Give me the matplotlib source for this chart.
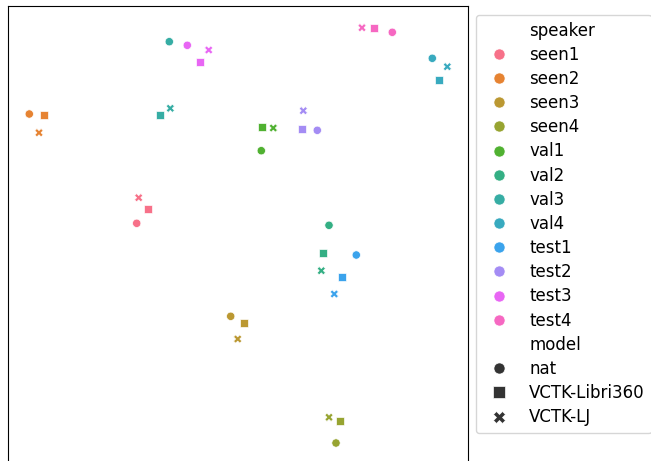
import pandas as pd
import numpy as np
import matplotlib
matplotlib.use("Agg")
import matplotlib.pyplot as plt
import seaborn as sns

speakers = ["seen1", "seen2", "seen3", "seen4", "val1", "val2", "val3", "val4",
            "test1", "test2", "test3", "test4"]
models = ["nat", "VCTK-Libri360", "VCTK-LJ"]

# 2D embedding coordinates, one list per model, in the order of `speakers`
x_nat = [136.7, 29.3, 230.7, 336.0, 261.3, 329.0, 169.3, 432.3, 356.3, 317.3, 187.3, 392.3]
y_nat = [237.7, 347.0, 144.7, 18.0, 310.3, 235.7, 419.3, 402.7, 206.0, 330.7, 415.7, 428.7]
x_libri = [147.7, 43.7, 244.3, 340.0, 261.7, 323.0, 160.3, 439.3, 342.0, 301.7, 199.7, 374.0]
y_libri = [251.7, 345.7, 137.7, 40.3, 334.3, 208.3, 345.7, 381.3, 184.0, 332.3, 399.0, 432.7]
x_lj = [138.7, 39.0, 237.7, 329.0, 273.3, 321.3, 170.3, 447.3, 334.3, 303.3, 208.7, 362.0]
y_lj = [263.3, 328.3, 122.0, 43.7, 333.0, 190.3, 352.7, 394.3, 167.0, 350.3, 411.0, 433.3]

df = pd.DataFrame({
    "x": x_nat + x_libri + x_lj,
    "y": y_nat + y_libri + y_lj,
    "speaker": speakers * 3,
    "model": np.repeat(models, len(speakers)),
})

fig = plt.figure(figsize=(6.51, 4.61), dpi=100)
ax = fig.add_axes([8 / 651, -12 / 461, 460 / 651, 467 / 461])

sns.scatterplot(data=df, x="x", y="y", hue="speaker", style="model",
                hue_order=speakers, style_order=models,
                markers=["o", "s", "X"], ax=ax)

ax.set_xlim(8, 468)
ax.set_ylim(-12, 455)
ax.set_xticks([])
ax.set_yticks([])
ax.set_xlabel("")
ax.set_ylabel("")

leg = ax.legend(loc="upper left", bbox_to_anchor=(476 / 651, 1 - 15 / 461),
                bbox_transform=fig.transFigure, fontsize=12, borderaxespad=0,
                labelspacing=0.37)
for h in leg.legend_handles:
    if hasattr(h, "set_markersize"):
        h.set_markersize(8)
    else:
        h.set_sizes([64])

fig.savefig("out.png", dpi=100)
